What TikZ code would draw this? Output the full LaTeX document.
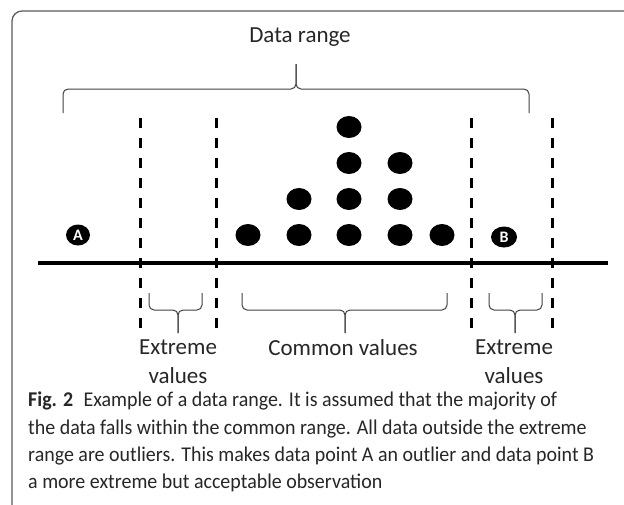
\documentclass[tikz,border=0pt]{standalone}
\usepackage{fontspec}
\setmainfont{Carlito}
\newfontfamily\captfont{Carlito}[FakeStretch=0.95]
\usetikzlibrary{positioning,shapes.geometric}

\begin{document}
\begin{tikzpicture}[x=1pt,y=-1pt,
        dot/.style = {ellipse, fill=black, inner sep=0pt,
            minimum width=25pt, minimum height=22pt},
        pnt/.style = {ellipse, fill=black, text=white, inner sep=0pt,
            minimum width=24pt, minimum height=21pt,
            font=\bfseries\fontsize{16}{16}\selectfont},
        cut/.style = {line width=3pt, dash pattern=on 10pt off 10pt},
        brc/.style = {line width=1pt, black!75, rounded corners=5pt},
        lbl/.style = {font=\fontsize{23}{29}\selectfont, align=center,
            inner sep=0pt, text=black!85},
        capt/.style = {font=\captfont\fontsize{21}{27.3}\selectfont, align=left,
            inner sep=0pt, text=black!85}
    ]
    \useasboundingbox (0,0) rectangle (624,504);

    % frame
    \draw[black!65, line width=1.2pt, rounded corners=10pt] (12,530) -- (12,11) -- (650,11);

    % axis and cut-off lines
    \draw[line width=4pt] (38,263) -- (608,263);
    \foreach \x/\n in {140/a,216/b,471/c,552/d}
        \draw[cut] (\x,118) coordinate (\n-top) -- (\x,330) coordinate (\n-bot);

    % data points
    \foreach \x/\h [count=\i] in {248/1,299/2,349/4,400/3,442/1}
        \foreach \r in {1,...,\h}
            \node[dot] (d\i\r) at (\x,{235-36*(\r-1)}) {};

    \node[pnt] (A) at (78,235) {A};
    \node[pnt, minimum width=26pt] (B) at (504,237) {B};

    % labels
    \node[lbl] (range) at (300,37) {Data range};
    \node[lbl] (ext1) at (178,362) {Extreme\\values};
    \node[lbl] (comm) at (343,348) {Common values};
    \node[lbl] (ext2) at (514,362) {Extreme\\values};

    % braces
    \draw[brc] (63,113) -- (63,89) -- (296,89) -- (296,64);
    \draw[brc] (529,113) -- (529,89) -- (296,89) -- (296,64);
    \foreach \l/\m/\r in {149/178/202,242/345/447,489/515/542} {
        \draw[brc] (\l,293) -- (\l,310) -- (\m,310) -- (\m,333);
        \draw[brc] (\r,293) -- (\r,310) -- (\m,310) -- (\m,333);
    }

    % caption
    \node[capt, anchor=north west] (caption) at (28,392) {\textbf{Fig. 2}\enspace Example of a data range. It is assumed that the majority of\\
        the data falls within the common range. All data outside the extreme\\
        range are outliers. This makes data point A an outlier and data point B\\
        a more extreme but acceptable observation};
\end{tikzpicture}
\end{document}
